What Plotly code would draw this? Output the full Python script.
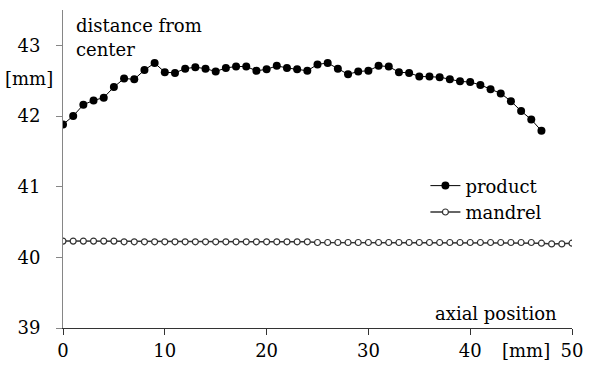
import plotly.graph_objects as go

# axial position along the part [mm]
axial_product = list(range(0, 48))
axial_mandrel = list(range(0, 51))

# radial distance from center [mm]
product = [
    41.88, 42.00, 42.16, 42.22, 42.26, 42.41, 42.53, 42.52, 42.65, 42.75,
    42.62, 42.61, 42.67, 42.69, 42.67, 42.63, 42.68, 42.70, 42.70, 42.64,
    42.66, 42.71, 42.68, 42.66, 42.64, 42.73, 42.75, 42.67, 42.59, 42.63,
    42.64, 42.71, 42.70, 42.62, 42.61, 42.56, 42.56, 42.55, 42.52, 42.49,
    42.48, 42.44, 42.38, 42.32, 42.21, 42.07, 41.95, 41.79,
]
mandrel = [
    40.23, 40.23, 40.23, 40.23, 40.23, 40.23, 40.22, 40.22, 40.22, 40.22,
    40.22, 40.22, 40.22, 40.22, 40.22, 40.22, 40.22, 40.22, 40.22, 40.22,
    40.22, 40.22, 40.22, 40.22, 40.22, 40.21, 40.21, 40.21, 40.21, 40.21,
    40.21, 40.21, 40.21, 40.21, 40.21, 40.21, 40.21, 40.21, 40.21, 40.21,
    40.21, 40.21, 40.21, 40.21, 40.21, 40.21, 40.21, 40.20, 40.19, 40.19,
    40.20,
]

x_ticks = [0, 10, 20, 30, 40, 50]
y_ticks = [39, 40, 41, 42, 43]

FONT = "DejaVu Serif"
FS = 18


def label(text, x, y, xanchor, yanchor="middle"):
    return dict(text=text, xref="paper", yref="paper", x=x, y=y,
                xanchor=xanchor, yanchor=yanchor, showarrow=False,
                font=dict(family=FONT, size=FS, color="#000000"))


fig = go.Figure()
fig.add_trace(go.Scatter(
    x=axial_product, y=product, name="product", mode="lines+markers",
    line=dict(color="#000000", width=1),
    marker=dict(symbol="circle", size=8, color="#000000"),
))
fig.add_trace(go.Scatter(
    x=axial_mandrel, y=mandrel, name="mandrel", mode="lines+markers",
    line=dict(color="#333333", width=1.5),
    marker=dict(symbol="circle", size=6, color="#ffffff",
                line=dict(color="#333333", width=1.2)),
))

fig.update_layout(
    width=593, height=371,
    margin=dict(l=63, r=11, t=10, b=37),
    plot_bgcolor="#ffffff", paper_bgcolor="#ffffff",
    font=dict(family=FONT, size=FS, color="#000000"),
    showlegend=True,
    legend=dict(x=0.712, y=0.505, xanchor="left", yanchor="top",
                bgcolor="rgba(0,0,0,0)", font=dict(family=FONT, size=FS),
                itemwidth=30, tracegroupgap=0),
    xaxis=dict(range=[0, 50], tickvals=x_ticks, ticks="outside", ticklen=6,
               tickcolor="#333333", showline=True, linecolor="#333333",
               linewidth=1, showgrid=False, zeroline=False,
               ticklabeloverflow="allow",
               tickfont=dict(family=FONT, size=FS, color="#000000")),
    yaxis=dict(range=[39, 43.5], tickvals=y_ticks, ticks="outside", ticklen=6,
               tickcolor="#868686", showline=True, linecolor="#868686",
               linewidth=1, showgrid=False, zeroline=False,
               ticklabelstandoff=12, ticklabeloverflow="allow",
               tickfont=dict(family=FONT, size=FS, color="#000000")),
    annotations=[
        label("distance from", 0.021, 0.952, "left"),
        label("center", 0.021, 0.876, "left"),
        label("[mm]", -0.015, 0.785, "right"),
        label("axial position", 0.975, 0.045, "right"),
        label("[mm]", 0.91, -0.072, "center"),
    ],
)

fig.write_html("out.html")
